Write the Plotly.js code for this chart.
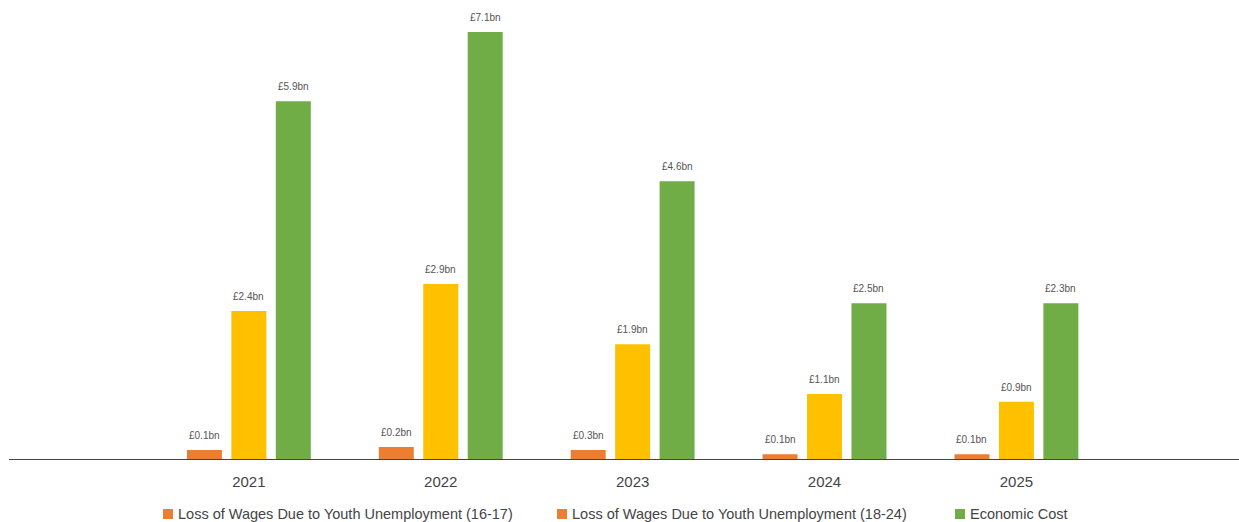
<!DOCTYPE html>
<html>
<head>
<meta charset="utf-8">
<script src="https://cdn.plot.ly/plotly-3.0.1.min.js"></script>
<style>html,body{margin:0;padding:0;background:#fff;}#chart{width:1239px;height:522px;}</style>
</head>
<body>
<div id="chart"></div>
<script>
const years = ['2021', '2022', '2023', '2024', '2025'];
const seriesNames = [
  'Loss of Wages Due to Youth Unemployment (16-17)',
  'Loss of Wages Due to Youth Unemployment (18-24)',
  'Economic Cost'
];
const wages1617 = [0.15, 0.2, 0.15, 0.08, 0.08];
const wages1824 = [2.46, 2.91, 1.91, 1.08, 0.95];
const economicCost = [5.95, 7.1, 4.62, 2.59, 2.59];
const labels1617 = ['£0.1bn', '£0.2bn', '£0.3bn', '£0.1bn', '£0.1bn'];
const labels1824 = ['£2.4bn', '£2.9bn', '£1.9bn', '£1.1bn', '£0.9bn'];
const labelsEcon = ['£5.9bn', '£7.1bn', '£4.6bn', '£2.5bn', '£2.3bn'];

const ORANGE = '#ED7D31', YELLOW = '#FFC000', GREEN = '#70AD47';
const barColors = [ORANGE, YELLOW, GREEN];
const legendColors = [ORANGE, ORANGE, GREEN];
const FONT = 'Liberation Sans, Arial, sans-serif';

const W = 1239, H = 522;
const M = {l: 9, r: 0, t: 8, b: 63};
const BARGAP = 0.305, BARGROUPGAP = 0.213;
const plotW = W - M.l - M.r, plotH = H - M.t - M.b;

const values = [wages1617, wages1824, economicCost];
const labels = [labels1617, labels1824, labelsEcon];

const data = values.map((v, k) => ({
  type: 'bar', name: seriesNames[k], x: years, y: v,
  marker: {color: barColors[k]}, showlegend: false,
  hoverinfo: 'x+y+name'
}));

// value labels above bars, placed with the axis scales (category index + group offset)
const slot = (1 - BARGAP) / values.length;
const annotations = [];
values.forEach((v, k) => {
  v.forEach((val, i) => {
    annotations.push({
      xref: 'x', yref: 'y', x: i + (k - (values.length - 1) / 2) * slot, y: val,
      text: labels[k][i], showarrow: false, xanchor: 'center', yanchor: 'bottom',
      yshift: 7, font: {family: FONT, size: 10, color: '#555'}
    });
  });
});

// custom legend (swatch + label)
const px2x = px => (px - M.l) / plotW;
const py2y = py => (H - M.b - py) / plotH;
const legendStarts = [163, 557, 955];
const shapes = [];
seriesNames.forEach((name, k) => {
  const x0 = legendStarts[k];
  shapes.push({
    type: 'rect', xref: 'paper', yref: 'paper',
    x0: px2x(x0), x1: px2x(x0 + 10), y0: py2y(519), y1: py2y(509),
    fillcolor: legendColors[k], line: {width: 0}
  });
  annotations.push({
    xref: 'paper', yref: 'paper', x: px2x(x0 + 13), y: py2y(514),
    xanchor: 'left', yanchor: 'middle', showarrow: false, text: name,
    font: {family: FONT, size: 14.5, color: '#444'}
  });
});

const layout = {
  width: W, height: H, margin: M,
  paper_bgcolor: '#fff', plot_bgcolor: '#fff',
  barmode: 'group', bargap: BARGAP, bargroupgap: BARGROUPGAP,
  font: {family: FONT, color: '#444'},
  showlegend: false,
  xaxis: {
    type: 'category', range: [-1.25, 5.16], showgrid: false, zeroline: false,
    showline: true, linecolor: '#444', linewidth: 1, ticks: '',
    ticklabelstandoff: 9,
    tickfont: {family: FONT, size: 15, color: '#444'}, fixedrange: true
  },
  yaxis: {range: [0, 7.5], visible: false, showgrid: false, zeroline: false, fixedrange: true},
  annotations: annotations,
  shapes: shapes
};

Plotly.newPlot('chart', data, layout, {displayModeBar: false, staticPlot: true});
</script>
</body>
</html>
